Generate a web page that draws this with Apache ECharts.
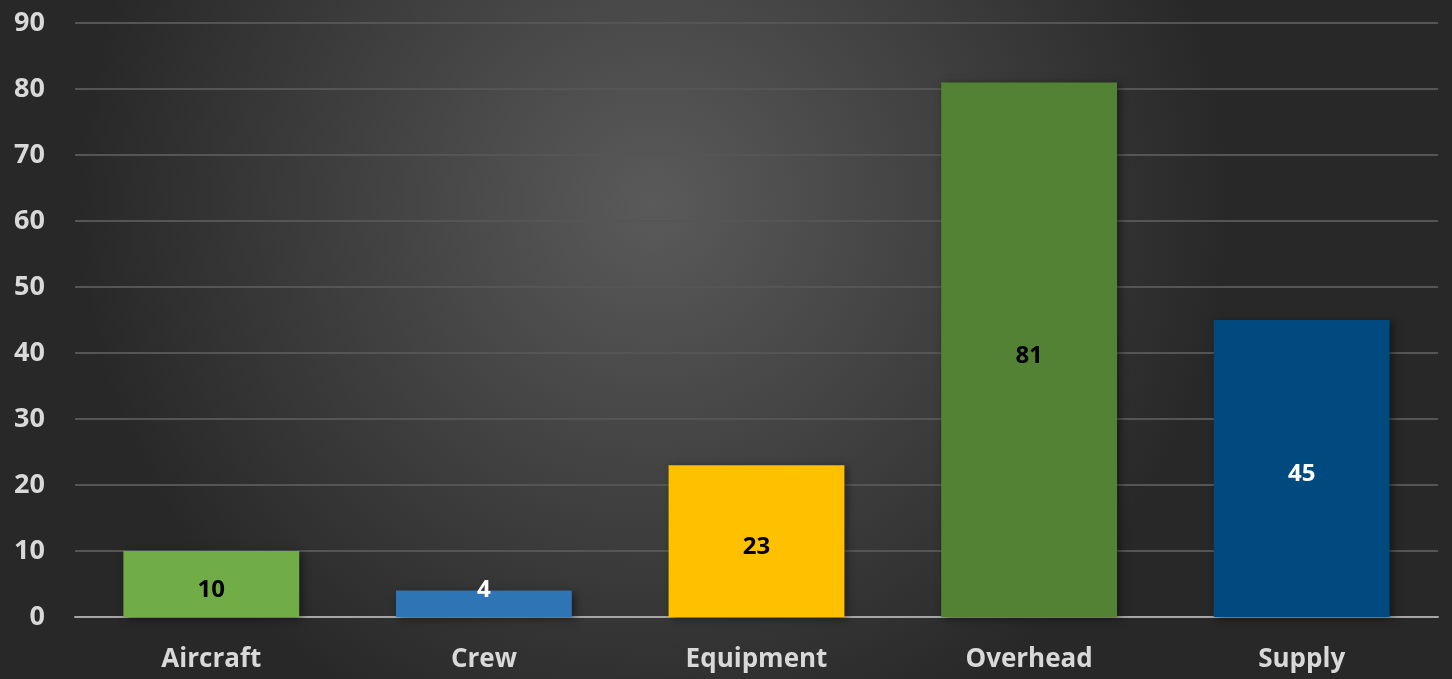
<!DOCTYPE html>
<html>
<head>
<meta charset="utf-8">
<script src="https://cdn.jsdelivr.net/npm/echarts@6/dist/echarts.min.js"></script>
<style>
html,body{margin:0;padding:0;background:#2b2b2b;}
#c{width:1452px;height:679px;}
</style>
</head>
<body>
<div id="c"></div>
<script>
const categories = ['Aircraft', 'Crew', 'Equipment', 'Overhead', 'Supply'];
const values = [10, 4, 23, 81, 45];
const barColors = ['#70AD47', '#2E75B6', '#FFC000', '#548235', '#004A80'];
const labelColors = ['#000000', '#FFFFFF', '#000000', '#000000', '#FFFFFF'];
const yTicks = [0, 10, 20, 30, 40, 50, 60, 70, 80, 90];

const font = '"Open Sans", "Liberation Sans", sans-serif';
const chart = echarts.init(document.getElementById('c'), null, {renderer: 'canvas'});

const data = values.map((v, i) => ({
  value: v,
  itemStyle: {color: barColors[i]},
  label: {
    color: labelColors[i],
    offset: v < 6 ? [0, -14] : [0, 6]
  }
}));

chart.setOption({
  backgroundColor: {
    type: 'radial', x: 0.45, y: 0.3, r: 0.85,
    colorStops: [
      {offset: 0, color: '#5a5a5a'},
      {offset: 1, color: '#282828'}
    ]
  },
  animation: false,
  grid: {left: 75, right: 14, top: 23, bottom: 62, containLabel: false},
  xAxis: {
    type: 'category',
    data: categories,
    axisLine: {show: true, lineStyle: {color: '#a6a6a6', width: 2}},
    axisTick: {show: false},
    axisLabel: {color: '#d9d9d9', fontFamily: font, fontWeight: 'bold', fontSize: 26, margin: 30}
  },
  yAxis: {
    type: 'value',
    min: yTicks[0],
    max: yTicks[yTicks.length - 1],
    interval: 10,
    axisLine: {show: false},
    axisTick: {show: false},
    splitLine: {lineStyle: {color: '#555555', width: 2}},
    axisLabel: {color: '#d9d9d9', fontFamily: font, fontWeight: 'bold', fontSize: 27, margin: 30}
  },
  series: [{
    type: 'bar',
    data: data,
    barWidth: '64.5%',
    itemStyle: {
      shadowColor: 'rgba(0,0,0,0.45)',
      shadowBlur: 8,
      shadowOffsetX: 3,
      shadowOffsetY: 2
    },
    label: {
      show: true,
      position: 'inside',
      fontFamily: font,
      fontWeight: 'bold',
      fontSize: 24
    },
    z: 1
  }]
});
</script>
</body>
</html>
